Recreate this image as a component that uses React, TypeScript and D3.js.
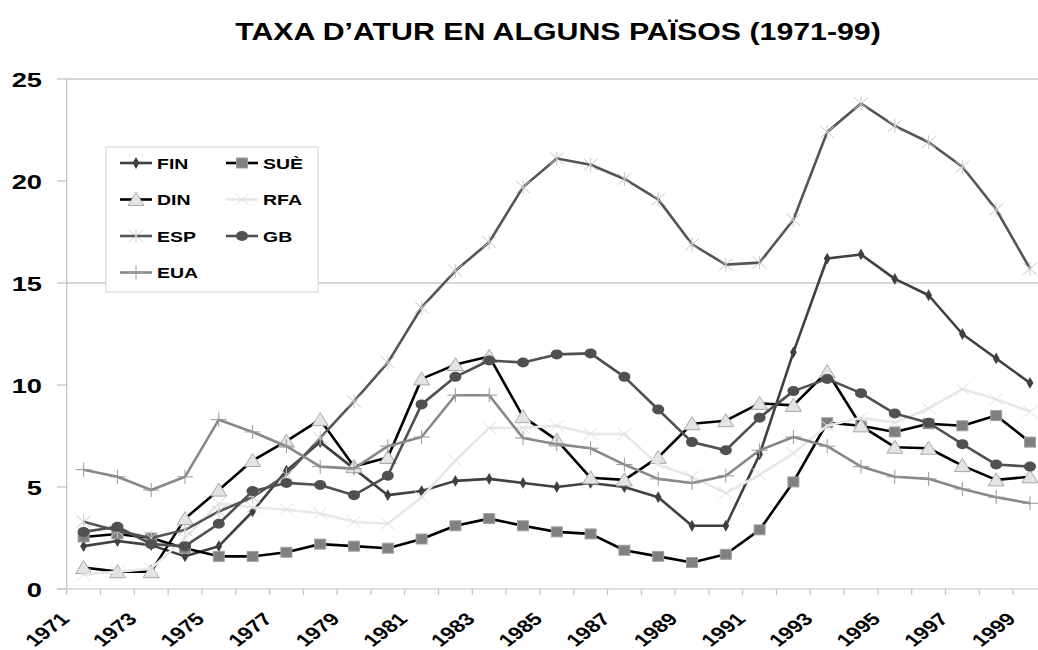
import React from 'react';
import * as d3 from 'd3';

// years 1971..1999
const years = d3.range(1971, 2000).map(String);
const tickYears = years.filter((_, i) => i % 2 === 0);
const yTicks = [0, 5, 10, 15, 20, 25];
const gridValues = [15, 25];

const FIN = [2.1, 2.35, 2.15, 1.6, 2.1, 3.8, 5.8, 7.2, 5.9, 4.6, 4.8, 5.3, 5.4, 5.2, 5.0, 5.2, 5.0, 4.5, 3.1, 3.1, 6.6, 11.6, 16.2, 16.4, 15.2, 14.4, 12.5, 11.3, 10.1];
const SUE = [2.55, 2.7, 2.5, 2.0, 1.6, 1.6, 1.8, 2.2, 2.1, 2.0, 2.45, 3.1, 3.45, 3.1, 2.8, 2.7, 1.9, 1.6, 1.3, 1.7, 2.9, 5.25, 8.15, 8.0, 7.7, 8.1, 8.0, 8.5, 7.2];
const DIN = [1.05, 0.85, 0.85, 3.45, 4.85, 6.3, 7.25, 8.3, 6.0, 6.45, 10.3, 11.0, 11.4, 8.45, 7.3, 5.45, 5.35, 6.45, 8.1, 8.25, 9.1, 9.0, 10.65, 8.0, 6.95, 6.9, 6.05, 5.35, 5.5];
const RFA = [0.7, 0.85, 1.0, 2.5, 4.2, 4.0, 3.9, 3.7, 3.3, 3.2, 4.5, 6.3, 7.9, 7.9, 8.0, 7.6, 7.6, 6.1, 5.5, 4.7, 5.6, 6.65, 8.0, 8.4, 8.15, 8.85, 9.8, 9.3, 8.7];
const ESP = [3.3, 2.85, 2.5, 2.9, 3.8, 4.5, 5.6, 7.4, 9.2, 11.1, 13.8, 15.6, 17.0, 19.7, 21.1, 20.8, 20.1, 19.1, 16.9, 15.9, 16.0, 18.1, 22.4, 23.8, 22.7, 21.9, 20.7, 18.6, 15.7];
const GB = [2.8, 3.05, 2.2, 2.1, 3.2, 4.8, 5.2, 5.1, 4.6, 5.55, 9.05, 10.4, 11.2, 11.1, 11.5, 11.55, 10.4, 8.8, 7.2, 6.8, 8.4, 9.7, 10.3, 9.6, 8.6, 8.15, 7.1, 6.1, 6.0];
const EUA = [5.85, 5.5, 4.85, 5.5, 8.3, 7.7, 7.0, 6.0, 5.9, 7.0, 7.45, 9.5, 9.5, 7.4, 7.1, 6.9, 6.1, 5.4, 5.2, 5.55, 6.8, 7.45, 7.0, 6.0, 5.5, 5.4, 4.9, 4.5, 4.2];

const series = [
  { name: 'FIN', values: FIN, line: '#404040', marker: 'diamond', fill: '#404040', mstroke: '#404040' },
  { name: 'SUÈ', values: SUE, line: '#000000', marker: 'square', fill: '#808080', mstroke: '#a0a0a0' },
  { name: 'DIN', values: DIN, line: '#000000', marker: 'triangle', fill: '#e4e4e4', mstroke: '#a8a8a8' },
  { name: 'RFA', values: RFA, line: '#e8e8e8', marker: 'x', fill: 'none', mstroke: '#e0e0e0' },
  { name: 'ESP', values: ESP, line: '#555555', marker: 'star', fill: 'none', mstroke: '#c8c8c8' },
  { name: 'GB', values: GB, line: '#505050', marker: 'circle', fill: '#505050', mstroke: '#505050' },
  { name: 'EUA', values: EUA, line: '#888888', marker: 'plus', fill: 'none', mstroke: '#999999' },
];

const W = 1038, H = 650;
const left = 66.7, band = 33.8, top = 79, bottom = 589;
const font = '"Liberation Sans", Arial, sans-serif';
const sx = 1.3; // the picture is stretched sideways

const x = d3.scaleBand().domain(years).range([left, left + band * years.length]);
const y = d3.scaleLinear().domain([0, 25]).range([bottom, top]);
const cx = (yr: string) => (x(yr) as number) + x.bandwidth() / 2;

function Marker({ type, px, py, fill, stroke }: any) {
  switch (type) {
    case 'diamond':
      return <path transform={`translate(${px},${py})`} d={d3.symbol(d3.symbolDiamond, 40)()!} fill={fill} />;
    case 'square':
      return <rect x={px - 5.5} y={py - 5} width={11} height={10} fill={fill} stroke={stroke} strokeWidth={1} />;
    case 'triangle':
      return <path d={`M${px},${py - 7}L${px + 8},${py + 6}L${px - 8},${py + 6}Z`} fill={fill} stroke={stroke} strokeWidth={1} />;
    case 'circle':
      return <ellipse cx={px} cy={py} rx={6} ry={5} fill={fill} />;
    case 'x':
      return <path d={`M${px - 7},${py - 6}L${px + 7},${py + 6}M${px - 7},${py + 6}L${px + 7},${py - 6}`} stroke={stroke} strokeWidth={1} fill="none" />;
    case 'star':
      return <path d={`M${px - 7},${py - 6}L${px + 7},${py + 6}M${px - 7},${py + 6}L${px + 7},${py - 6}M${px},${py - 7}L${px},${py + 7}`} stroke={stroke} strokeWidth={1} fill="none" />;
    case 'plus':
      return <path d={`M${px - 8},${py}L${px + 8},${py}M${px},${py - 7}L${px},${py + 7}`} stroke={stroke} strokeWidth={1} fill="none" />;
  }
  return null;
}

const legendRows = [
  [0, 1],
  [2, 3],
  [4, 5],
  [6],
];

export default function App() {
  const line = d3.line<number>().x((_, i) => cx(years[i])).y((d) => y(d));
  return (
    <svg width={W} height={H} style={{ position: 'absolute', left: 0, top: 0, background: '#fff' }} fontFamily={font}>
      <rect width={W} height={H} fill="#fff" />
      <text transform={`translate(558,40) scale(${sx},1)`} textAnchor="middle" fontSize={23.3} fontWeight="bold">
        TAXA D’ATUR EN ALGUNS PAÏSOS (1971-99)
      </text>

      {gridValues.map((g) => (
        <line key={g} x1={left} x2={W} y1={y(g)} y2={y(g)} stroke="#b0b0b0" strokeWidth={1.2} />
      ))}
      <line x1={left} x2={left} y1={top} y2={bottom} stroke="#c0c0c0" strokeWidth={1.2} />
      <line x1={57} x2={W} y1={bottom} y2={bottom} stroke="#c0c0c0" strokeWidth={1.2} />
      {yTicks.map((t) => (
        <g key={t}>
          <line x1={57} x2={left} y1={y(t)} y2={y(t)} stroke="#c0c0c0" strokeWidth={1.2} />
          <text transform={`translate(42,${y(t) + 8}) scale(${sx},1)`} textAnchor="end" fontSize={21} fontWeight="bold">
            {t}
          </text>
        </g>
      ))}
      {years.map((yr) => (
        <line key={yr} x1={x(yr)} x2={x(yr)} y1={bottom} y2={bottom + 6} stroke="#c0c0c0" strokeWidth={1.2} />
      ))}
      {tickYears.map((yr) => (
        <text key={yr} transform={`translate(${cx(yr) - 13},620) scale(${sx},1) rotate(-45)`} textAnchor="end" fontSize={17.5} fontWeight="bold">
          {yr}
        </text>
      ))}

      {series.map((s) => (
        <g key={s.name}>
          <path d={line(s.values)!} fill="none" stroke={s.line} strokeWidth={2.6} strokeLinejoin="round" />
          {s.values.map((v, i) => (
            <Marker key={i} type={s.marker} px={cx(years[i])} py={y(v)} fill={s.fill} stroke={s.mstroke} />
          ))}
        </g>
      ))}

      <rect x={106} y={147} width={212} height={145} fill="#fff" stroke="#d4d4d4" strokeWidth={1} />
      {legendRows.map((row, r) =>
        row.map((si, c) => {
          const s = series[si];
          const ly = 163 + r * 36.5;
          const lx = c === 0 ? 120 : 226;
          return (
            <g key={s.name}>
              <line x1={lx} x2={lx + 32} y1={ly} y2={ly} stroke={s.line} strokeWidth={2.6} />
              <Marker type={s.marker} px={lx + 16} py={ly} fill={s.fill} stroke={s.mstroke} />
              <text transform={`translate(${lx + 37},${ly + 5.5}) scale(${sx},1)`} fontSize={15} fontWeight="bold">
                {s.name}
              </text>
            </g>
          );
        })
      )}
    </svg>
  );
}
